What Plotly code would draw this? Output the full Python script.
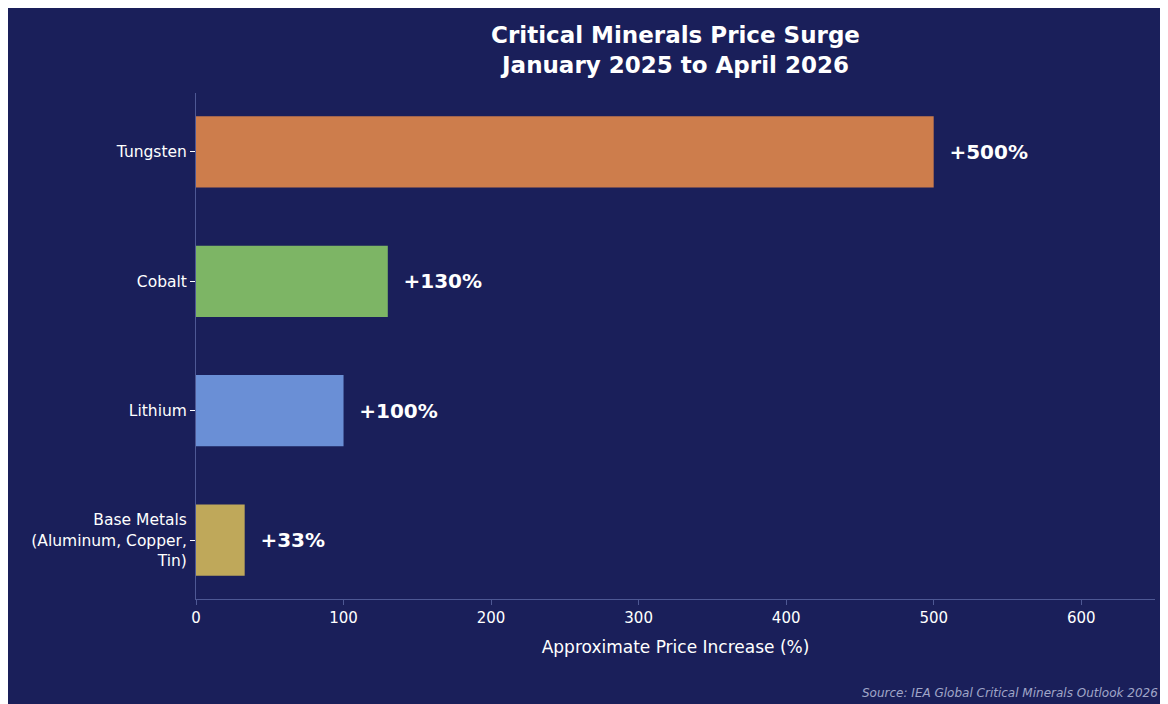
import plotly.graph_objects as go

minerals = ["Tungsten", "Cobalt", "Lithium", "Base Metals<br>(Aluminum, Copper,<br>Tin)"]
increase = [500, 130, 100, 33]
labels = ["  <b>+500%</b>", "  <b>+130%</b>", "  <b>+100%</b>", "  <b>+33%</b>"]
colors = ["#CD7D4C", "#7DB565", "#6A8FD6", "#BFA85A"]

bg = "#1A1F5A"
axis_col = "#4E5894"

fig = go.Figure(go.Bar(
    x=increase, y=minerals, orientation="h", width=0.55,
    marker=dict(color=colors, line=dict(width=0)),
    text=labels, textposition="outside", cliponaxis=False,
    textfont=dict(color="white", size=20, family="DejaVu Sans"),
))

fig.update_layout(
    width=1168, height=704,
    paper_bgcolor=bg, plot_bgcolor=bg,
    margin=dict(l=188, r=21, t=85, b=113),
    font=dict(family="DejaVu Sans", color="white"),
    title=dict(text="<b>Critical Minerals Price Surge<br>January 2025 to April 2026</b>",
               x=0.5715, xanchor="center", y=0.95, yanchor="middle",
               font=dict(size=23, color="white")),
    showlegend=False,
    xaxis=dict(range=[0, 650], tickvals=[0, 100, 200, 300, 400, 500, 600],
               showgrid=False, zeroline=False, showline=True, linecolor=axis_col,
               ticks="outside", tickcolor=axis_col, ticklen=5,
               tickfont=dict(size=15, color="white"),
               title=dict(text="Approximate Price Increase (%)", font=dict(size=17, color="white"), standoff=15)),
    yaxis=dict(autorange=False, range=[3.455, -0.455], showgrid=False, zeroline=False,
               showline=True, linecolor=axis_col, ticks="outside", tickcolor="white", ticklen=5,
               tickfont=dict(size=15.5, color="white")),
    annotations=[dict(text="<i>Source: IEA Global Critical Minerals Outlook 2026</i>",
                      xref="paper", yref="paper", x=1.005, y=-0.185, xanchor="right", yanchor="middle",
                      showarrow=False, font=dict(size=12, color="#A0A6C8"))],
)

fig.write_html("out.html")
